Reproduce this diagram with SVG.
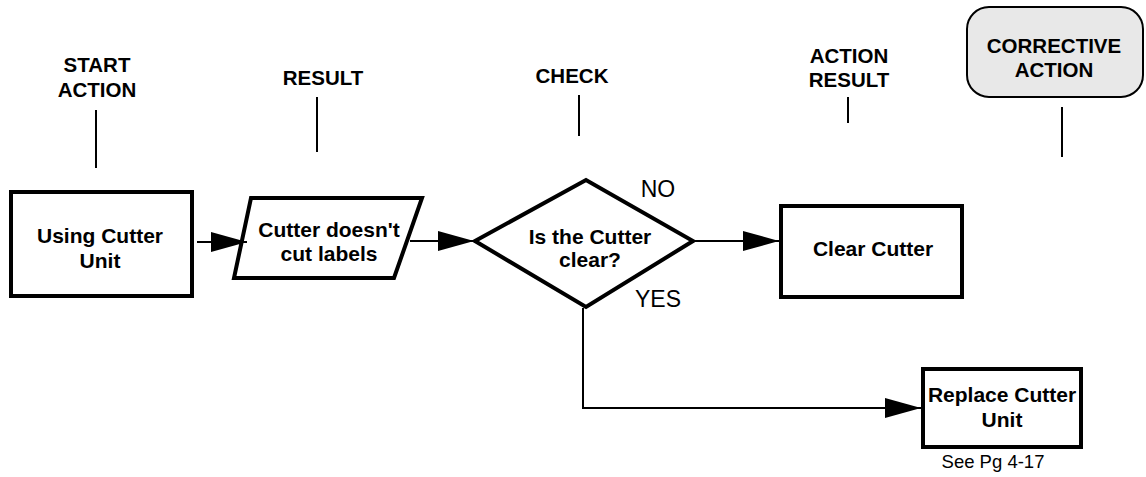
<svg xmlns="http://www.w3.org/2000/svg" width="1146" height="477" viewBox="0 0 1146 477">
<defs>
<style>
.node{fill:#fff;stroke:#000;stroke-width:4}
.lbl{font-family:"Liberation Sans",Arial,sans-serif;font-weight:bold;font-size:20.5px;fill:#000;text-anchor:middle}
.t{font-family:"Liberation Sans",Arial,sans-serif;font-weight:bold;font-size:21px;fill:#000;text-anchor:middle}
.yn{font-family:"Liberation Sans",Arial,sans-serif;font-size:23px;fill:#000;text-anchor:middle}
.tick{stroke:#000;stroke-width:2}
.conn{fill:none;stroke:#000;stroke-width:2}
</style>
<marker id="ah" markerUnits="userSpaceOnUse" markerWidth="36" markerHeight="20" viewBox="0 0 36 20" refX="36" refY="10" orient="auto">
<polygon points="0,0 36,10 0,20" fill="#000"/>
</marker>
</defs>
<rect width="1146" height="477" fill="#fff"/>
<g id="headers">
<text class="lbl" x="97" y="72">START</text>
<text class="lbl" x="97" y="97">ACTION</text>
<line class="tick" x1="96" y1="110" x2="96" y2="168"/>
<text class="lbl" x="323" y="85">RESULT</text>
<line class="tick" x1="317" y1="97" x2="317" y2="152"/>
<text class="lbl" x="572" y="83">CHECK</text>
<line class="tick" x1="579" y1="95" x2="579" y2="136"/>
<text class="lbl" x="849" y="63">ACTION</text>
<text class="lbl" x="849" y="87">RESULT</text>
<line class="tick" x1="848" y1="97" x2="848" y2="123"/>
</g>
<g id="corrective">
<rect x="967" y="7" width="176" height="90" rx="22" fill="#e8e8e8" stroke="#000" stroke-width="2"/>
<text class="lbl" x="1054" y="53">CORRECTIVE</text>
<text class="lbl" x="1054" y="77">ACTION</text>
<line class="tick" x1="1062" y1="107" x2="1062" y2="157"/>
</g>
<g id="n1">
<rect class="node" x="11" y="192" width="181" height="104"/>
<text class="t" x="100" y="243">Using Cutter</text>
<text class="t" x="100" y="268">Unit</text>
</g>
<g id="n2">
<polygon class="node" points="251,198 422,198 394,278 234,278"/>
<text class="t" x="329" y="237">Cutter doesn't</text>
<text class="t" x="329" y="261">cut labels</text>
</g>
<g id="n3">
<polygon class="node" points="475,241 586,180 693,241 586,307"/>
<text class="t" x="590" y="244">Is the Cutter</text>
<text class="t" x="590" y="267">clear?</text>
</g>
<g id="n4">
<rect class="node" x="781" y="206" width="181" height="91"/>
<text class="t" x="873" y="256">Clear Cutter</text>
</g>
<g id="n5">
<rect class="node" x="923" y="369" width="158" height="78"/>
<text class="t" x="1002" y="402">Replace Cutter</text>
<text class="t" x="1002" y="427">Unit</text>
<text x="993" y="468" font-family="'Liberation Sans',Arial,sans-serif" font-size="18.5" text-anchor="middle">See Pg 4-17</text>
</g>
<g id="connectors">
<line class="conn" x1="197" y1="242" x2="247" y2="242" marker-end="url(#ah)"/>
<line class="conn" x1="410" y1="241" x2="474" y2="241" marker-end="url(#ah)"/>
<line class="conn" x1="695" y1="241" x2="779" y2="241" marker-end="url(#ah)"/>
<polyline class="conn" points="583,308 583,408 921,408" marker-end="url(#ah)"/>
<text class="yn" x="658" y="197">NO</text>
<text class="yn" x="658" y="307">YES</text>
</g>
</svg>
